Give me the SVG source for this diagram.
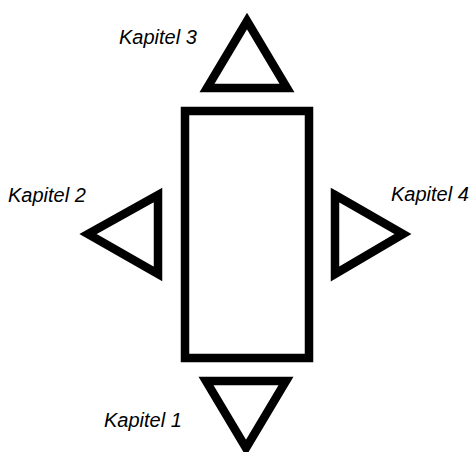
<svg xmlns="http://www.w3.org/2000/svg" width="474" height="452" viewBox="0 0 474 452">
  <style>
    .shape { fill: #ffffff; stroke: #000000; stroke-width: 8.5; stroke-linejoin: miter; stroke-miterlimit: 10; }
    .label { font-family: "Liberation Sans", Arial, sans-serif; font-style: italic; font-size: 20px; fill: #000000; }
  </style>
  <rect width="474" height="452" fill="#ffffff"/>
  <g id="connectors"></g>
  <g id="center">
    <rect class="shape" x="185" y="111" width="124" height="247"/>
  </g>
  <g id="kapitel3">
    <polygon class="shape" points="247,21 287,88 207,88"/>
    <text class="label" x="119" y="44">Kapitel 3</text>
  </g>
  <g id="kapitel2">
    <polygon class="shape" points="158,195 158,274 88,234"/>
    <text class="label" x="8" y="202">Kapitel 2</text>
  </g>
  <g id="kapitel4">
    <polygon class="shape" points="335,195 403,234 335,274"/>
    <text class="label" x="391" y="201">Kapitel 4</text>
  </g>
  <g id="kapitel1">
    <polygon class="shape" points="206,381 286,381 246,448"/>
    <text class="label" x="104" y="427">Kapitel 1</text>
  </g>
</svg>
